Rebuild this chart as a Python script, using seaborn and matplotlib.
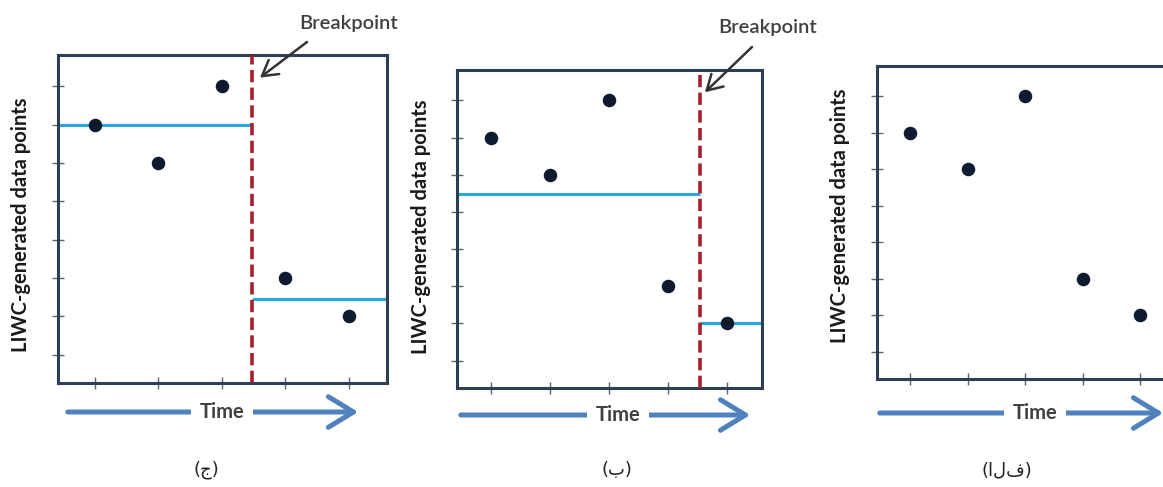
import matplotlib
matplotlib.use("Agg")
import matplotlib.pyplot as plt
import seaborn as sns
import pandas as pd

# ---- data ----
time_points = [1, 2, 3, 4, 5]
liwc_values = [7, 6, 8, 3, 2]
y_ticks = [1, 2, 3, 4, 5, 6, 7, 8]
panel_captions = ["(ج)", "(ب)", "(الف)"]
breakpoints = [3.47, 4.54, None]
segment_levels = [[7.0, 2.45], [5.47, 2.0], None]
y_label = "LIWC-generated data points"
x_label = "Time"
bp_label = "Breakpoint"

sns.set_theme(style="white")
plt.rcParams["font.family"] = ["Lato", "DejaVu Sans"]

W, H = 1163, 487
fig = plt.figure(figsize=(W / 100, H / 100), dpi=100)

def px(x0, y0, x1, y1):
    return [x0 / W, 1 - y1 / H, (x1 - x0) / W, (y1 - y0) / H]

axes_px = [(58, 55, 387, 383), (457, 70, 762, 388), (877, 66, 1175, 379)]
ylab_pos = [(21, 225), (421, 227), (840, 216)]
arrow_pos = [(65, 361, 412, 222), (458, 753, 415, 618), (877, 1166, 413, 1035)]
cap_pos = [(206, 470), (617, 470), (1007, 470)]
bp_text = [(349, 23, 307, 42, 3.6, 8.23), (768, 28, 752, 47, 4.63, 8.22), None]

spine_c = "#2e3f55"
dot_c = "#0d1b2e"
line_c = "#2aa7df"
red_c = "#a3202e"
arrow_c = "#4f81bd"
text_c = "#404040"

df = pd.DataFrame({"time": time_points, "value": liwc_values})
xlim = (0.42, 5.6)
ylim = (0.26, 8.82)

for i in range(3):
    ax = fig.add_axes(px(*axes_px[i]))
    bp = breakpoints[i]
    if bp is not None:
        lv = segment_levels[i]
        ax.hlines(lv[0], xlim[0], bp, color=line_c, lw=2.2, zorder=2)
        ax.hlines(lv[1], bp, xlim[1], color=line_c, lw=2.2, zorder=2)
        ax.axvline(bp, color=red_c, lw=2.6, ls=(0, (3.4, 1.5)), zorder=3)
    sns.scatterplot(data=df, x="time", y="value", ax=ax, s=95, color=dot_c,
                    edgecolor=dot_c, linewidth=0, zorder=4, legend=False)
    ax.set_xlim(*xlim)
    ax.set_ylim(*ylim)
    ax.set_xticks(time_points)
    ax.set_yticks(y_ticks)
    ax.set_xticklabels([])
    ax.set_yticklabels([])
    ax.set_xlabel("")
    ax.set_ylabel("")
    ax.tick_params(axis="both", direction="inout", length=9, width=1.0,
                   color="#5a6470", bottom=True, left=True)
    for s in ax.spines.values():
        s.set_color(spine_c)
        s.set_linewidth(2.2)
        s.set_visible(True)

    # y label
    lx, ly = ylab_pos[i]
    fig.text(lx / W, 1 - ly / H, y_label, rotation=90, ha="center", va="center",
             fontsize=14.5, fontweight="bold", color="#1a1a1a")

    # time arrow
    x0, x1, ay, tx = arrow_pos[i]
    fig.add_artist(matplotlib.patches.FancyArrowPatch(
        (x0 / W, 1 - ay / H), (x1 / W, 1 - ay / H), transform=fig.transFigure,
        arrowstyle="->,head_length=0.9,head_width=0.55", mutation_scale=20,
        color=arrow_c, lw=3.6))
    fig.text(tx / W, 1 - ay / H, x_label, ha="center", va="center", fontsize=14.5,
             fontweight="bold", color=text_c,
             bbox=dict(facecolor="white", edgecolor="none", pad=6))

    # caption
    cx, cy = cap_pos[i]
    fig.text(cx / W, 1 - cy / H, panel_captions[i], ha="center", va="center",
             fontsize=13, color="#222222", family=["DejaVu Sans"])

    # breakpoint annotation
    if bp_text[i] is not None:
        btx, bty, atx, aty, hx, hy = bp_text[i]
        fig.text(btx / W, 1 - bty / H, bp_label, ha="center", va="center",
                 fontsize=14.5, color=text_c, fontweight="semibold")
        ax.annotate("", xy=(hx, hy), xycoords="data",
                    xytext=(atx, H - aty), textcoords="figure pixels",
                    arrowprops=dict(arrowstyle="->,head_length=0.6,head_width=0.35",
                                    color="#333333", lw=1.8, mutation_scale=18,
                                    shrinkA=0, shrinkB=0),
                    annotation_clip=False)

fig.savefig("out.png", dpi=100, facecolor="white")
